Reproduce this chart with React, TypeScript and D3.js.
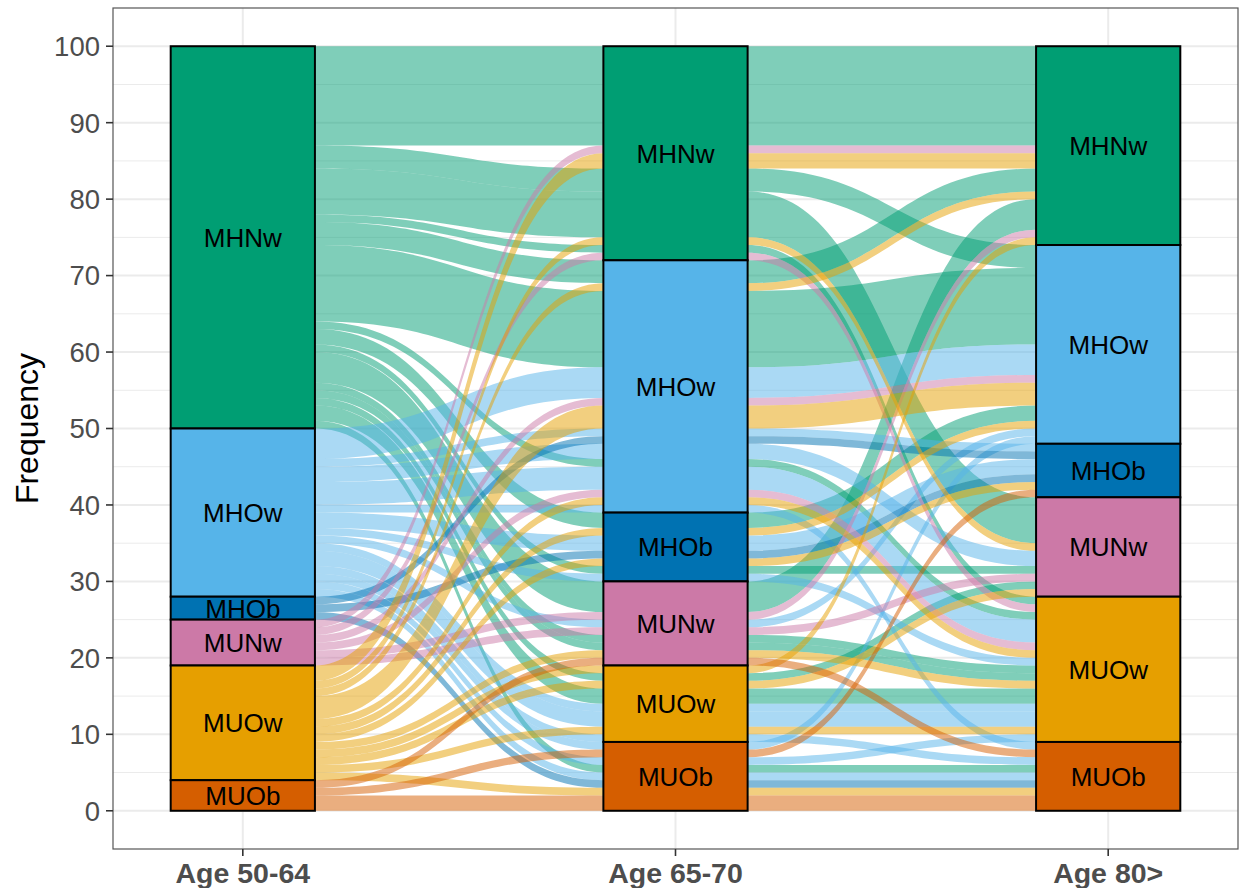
import React from "react";
import * as d3 from "d3";

const axisLabels = ["Age 50-64", "Age 65-70", "Age 80>"];
const strata = ["MHNw", "MHOw", "MHOb", "MUNw", "MUOw", "MUOb"];
const strataColors = ["#009E73", "#56B4E9", "#0072B2", "#CC79A7", "#E69F00", "#D55E00"];

// one entry per alluvium: stratum at each age group and its frequency
const age1 = [
  "MHNw", "MHNw", "MHNw", "MHNw", "MHNw", "MHNw", "MHNw", "MHNw", "MHNw", "MHNw", "MHNw", "MHNw", "MHNw", "MHNw", "MHNw",
  "MHOw", "MHOw", "MHOw", "MHOw", "MHOw", "MHOw", "MHOw", "MHOw", "MHOw", "MHOw", "MHOw", "MHOw", "MHOw", "MHOw",
  "MHOb", "MHOb", "MHOb",
  "MUNw", "MUNw", "MUNw", "MUNw", "MUNw", "MUNw",
  "MUOw", "MUOw", "MUOw", "MUOw", "MUOw", "MUOw", "MUOw", "MUOw", "MUOw", "MUOw", "MUOw", "MUOw",
  "MUOb", "MUOb", "MUOb",
];
const age2 = [
  "MHNw", "MHNw", "MHNw", "MHNw", "MHOw", "MHOw", "MHOw", "MHOb", "MHOb", "MUNw", "MUNw", "MUNw", "MUOw", "MUOw", "MUOb",
  "MHOw", "MHOw", "MHOw", "MHOw", "MHOw", "MHOb", "MHOb", "MUNw", "MUOw", "MUOw", "MUOw", "MUOb", "MUOb", "MUOb",
  "MHOw", "MHOb", "MUOb",
  "MHNw", "MHNw", "MHOw", "MHOw", "MUNw", "MUNw",
  "MHNw", "MHNw", "MHOw", "MHOw", "MHOw", "MHOb", "MHOb", "MUNw", "MUOw", "MUOw", "MUOw", "MUOb",
  "MUNw", "MUOb", "MUOb",
];
const age3 = [
  "MHNw", "MHOw", "MUNw", "MUOw", "MHNw", "MHOw", "MUOw", "MHOw", "MUNw", "MHNw", "MUOw", "MUOw", "MUOw", "MUNw", "MUOb",
  "MHOw", "MUNw", "MUOw", "MHOb", "MUOb", "MHOb", "MUOw", "MHOw", "MUOw", "MUOw", "MUOb", "MUOb", "MUOw", "MHOw",
  "MHOb", "MHOb", "MUOb",
  "MHNw", "MUOw", "MHOw", "MUOw", "MHNw", "MUNw",
  "MHNw", "MUNw", "MHOw", "MHNw", "MUOw", "MHOb", "MHOw", "MUOw", "MUOw", "MUNw", "MHNw", "MUOb",
  "MUOb", "MUOb", "MHOb",
];
const freq = [
  13, 3, 6, 1, 3, 10, 1, 2, 1, 4, 1, 1, 2, 1, 1,
  4, 2, 3, 1, 1, 2, 1, 1, 1, 2, 1, 1, 1, 1,
  1, 1, 1,
  1, 1, 1, 1, 1, 1,
  2, 1, 3, 1, 1, 1, 1, 1, 1, 1, 1, 1,
  1, 2, 1,
];

const yTicks = d3.range(0, 101, 10);
const yMinor = d3.range(5, 100, 10);

const W = 1239;
const H = 888;
const panel = { left: 113, right: 1238, top: 8, bottom: 849 };
const font = "'Liberation Sans', Arial, Helvetica, sans-serif";

const x = d3.scaleLinear().domain([0.7, 3.3]).range([panel.left, panel.right]);
const y = d3.scaleLinear().domain([-5, 105]).range([panel.bottom, panel.top]);
const halfW = x(1 + 1 / 6) - x(1);

const paths = [age1, age2, age3];
const rank = (s: string) => strata.indexOf(s);

// ggalluvial-like "zigzag" lode guidance
const guidance = [[0, 1, 2], [1, 2, 0], [2, 1, 0]];

// stratum extents per axis
const strataBox = paths.map((col) => {
  let top = 100;
  return strata.map((s) => {
    const total = d3.sum(col.map((v, i) => (v === s ? freq[i] : 0)));
    const box = { name: s, y1: top, y0: top - total };
    top -= total;
    return box;
  });
});

// lode positions [ymin, ymax] for each alluvium at each axis
const lodes: number[][][] = freq.map(() => [[0, 0], [0, 0], [0, 0]]);
paths.forEach((col, a) => {
  const g = guidance[a];
  strataBox[a].forEach((box) => {
    const members = d3.range(freq.length).filter((i) => col[i] === box.name);
    members.sort((p, q) => {
      for (let k = 1; k < g.length; k++) {
        const d = rank(paths[g[k]][p]) - rank(paths[g[k]][q]);
        if (d !== 0) return d;
      }
      return p - q;
    });
    let top = box.y1;
    members.forEach((i) => {
      lodes[i][a] = [top - freq[i], top];
      top -= freq[i];
    });
  });
});

function flowPath(i: number) {
  const p = d3.path();
  const L = lodes[i];
  const xs = [1, 2, 3].map((v) => x(v));
  p.moveTo(xs[0] - halfW, y(L[0][1]));
  for (let a = 0; a < 3; a++) {
    p.lineTo(xs[a] + halfW, y(L[a][1]));
    if (a < 2) {
      const xa = xs[a] + halfW, xb = xs[a + 1] - halfW, m = (xb - xa) / 2;
      p.bezierCurveTo(xa + m, y(L[a][1]), xb - m, y(L[a + 1][1]), xb, y(L[a + 1][1]));
    }
  }
  p.lineTo(xs[2] + halfW, y(L[2][0]));
  for (let a = 2; a >= 0; a--) {
    p.lineTo(xs[a] - halfW, y(L[a][0]));
    if (a > 0) {
      const xa = xs[a] - halfW, xb = xs[a - 1] + halfW, m = (xa - xb) / 2;
      p.bezierCurveTo(xa - m, y(L[a][0]), xb + m, y(L[a - 1][0]), xb, y(L[a - 1][0]));
    }
  }
  p.closePath();
  return p.toString();
}

export default function App() {
  return (
    <svg width={W} height={H} style={{ position: "absolute", left: 0, top: 0, background: "#fff" }}>
      <rect x={0} y={0} width={W} height={H} fill="#fff" />
      {/* grid */}
      {yMinor.map((t) => (
        <line key={"m" + t} x1={panel.left} x2={panel.right} y1={y(t)} y2={y(t)} stroke="#EBEBEB" strokeWidth={1} />
      ))}
      {yTicks.map((t) => (
        <line key={"g" + t} x1={panel.left} x2={panel.right} y1={y(t)} y2={y(t)} stroke="#EBEBEB" strokeWidth={2} />
      ))}
      {[1, 2, 3].map((v) => (
        <line key={"v" + v} x1={x(v)} x2={x(v)} y1={panel.top} y2={panel.bottom} stroke="#EBEBEB" strokeWidth={2} />
      ))}
      {/* alluvia */}
      {freq.map((_, i) => (
        <path key={"f" + i} d={flowPath(i)} fill={strataColors[rank(age1[i])]} fillOpacity={0.5} stroke="none" />
      ))}
      {/* strata */}
      {strataBox.map((boxes, a) =>
        boxes.map((b) => (
          <g key={a + b.name}>
            <rect x={x(a + 1) - halfW} y={y(b.y1)} width={2 * halfW} height={y(b.y0) - y(b.y1)}
              fill={strataColors[rank(b.name)]} stroke="#000" strokeWidth={2} />
            <text x={x(a + 1)} y={y((b.y0 + b.y1) / 2)} dy="0.36em" textAnchor="middle"
              fontFamily={font} fontSize={26} fill="#000">{b.name}</text>
          </g>
        ))
      )}
      {/* panel border */}
      <rect x={panel.left} y={panel.top} width={panel.right - panel.left} height={panel.bottom - panel.top}
        fill="none" stroke="#555" strokeWidth={1.2} />
      {/* y axis */}
      {yTicks.map((t) => (
        <g key={"yt" + t}>
          <line x1={panel.left - 7} x2={panel.left} y1={y(t)} y2={y(t)} stroke="#333" strokeWidth={1.6} />
          <text x={panel.left - 13} y={y(t)} dy="0.36em" textAnchor="end" fontFamily={font} fontSize={27.5} fill="#4D4D4D">{t}</text>
        </g>
      ))}
      {/* x axis */}
      {axisLabels.map((l, a) => (
        <g key={l}>
          <line x1={x(a + 1)} x2={x(a + 1)} y1={panel.bottom} y2={panel.bottom + 7} stroke="#333" strokeWidth={1.6} />
          <text x={x(a + 1)} y={883} textAnchor="middle" fontFamily={font} fontSize={28.5} fontWeight="bold" fill="#4D4D4D">{l}</text>
        </g>
      ))}
      <text transform={`translate(38,${(panel.top + panel.bottom) / 2}) rotate(-90)`} textAnchor="middle"
        fontFamily={font} fontSize={32} fill="#000">Frequency</text>
    </svg>
  );
}
